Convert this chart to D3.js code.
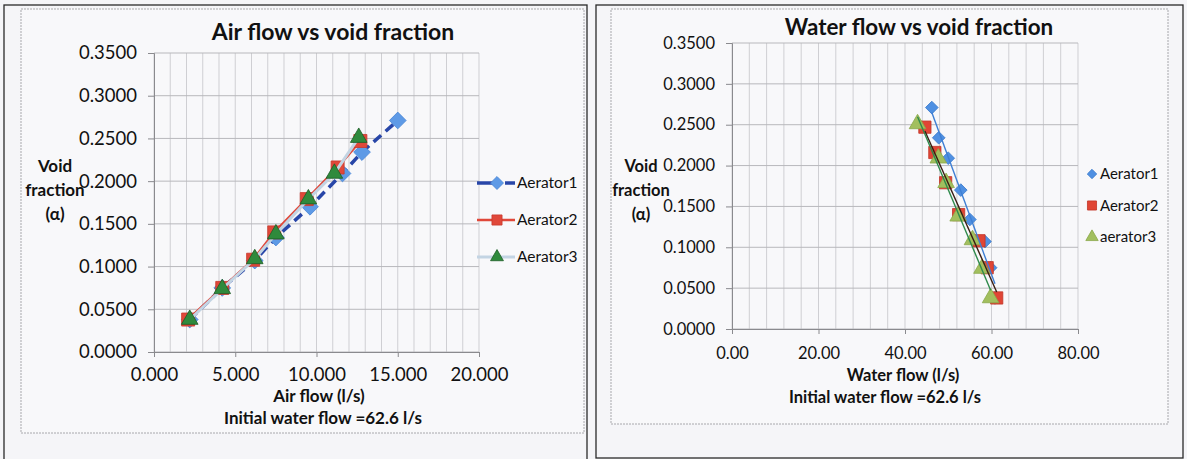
<!DOCTYPE html>
<html>
<head>
<meta charset="utf-8">
<script src="https://cdn.jsdelivr.net/npm/d3@7"></script>
<style>
  html, body { margin: 0; padding: 0; background: #f5f5f8; }
  svg { display: block; }
  text { font-family: Lato, "Open Sans", sans-serif; fill: #111; }
</style>
</head>
<body>
<svg id="chart" width="1187" height="459"></svg>
<script>
// ---- data -------------------------------------------------------------
const seriesNames = ["Aerator1", "Aerator2", "Aerator3"];
const rightLegendNames = ["Aerator1", "Aerator2", "aerator3"];

// void fraction (α) for each aerator, ascending
const void1 = [0.038, 0.075, 0.107, 0.134, 0.170, 0.209, 0.234, 0.271];
const void2 = [0.038, 0.075, 0.108, 0.140, 0.179, 0.216, 0.247];
const void3 = [0.038, 0.074, 0.109, 0.138, 0.179, 0.209, 0.251];

// air flow (l/s)
const air1 = [2.2, 4.2, 6.2, 7.5, 9.6, 11.6, 12.8, 15.0];
const air2 = [2.1, 4.2, 6.1, 7.4, 9.4, 11.3, 12.7];
const air3 = [2.2, 4.2, 6.2, 7.5, 9.5, 11.1, 12.6];

// water flow (l/s)
const water1 = [60.8, 59.8, 58.5, 55.0, 52.9, 50.0, 47.8, 46.2];
const water2 = [61.2, 59.0, 57.1, 52.4, 49.4, 46.9, 44.6];
const water3 = [59.8, 57.8, 55.6, 52.3, 49.5, 47.7, 42.9];

const yTicks = [0, 0.05, 0.10, 0.15, 0.20, 0.25, 0.30, 0.35];
const airTicks = [0, 5, 10, 15, 20];
const waterTicks = [0, 20, 40, 60, 80];

// ---- helpers ----------------------------------------------------------
const svg = d3.select("#chart");
const zip = (xs, ys) => xs.map((x, i) => ({ x, y: ys[i] }));

// diamond = square turned 45°, as spreadsheet charts draw it
function marker(g, kind, size, fill, stroke) {
  const type = kind === "triangle" ? d3.symbolTriangle : d3.symbolSquare;
  const p = g.append("g");
  p.append("path")
    .attr("d", d3.symbol().type(type).size(size)())
    .attr("transform", kind === "diamond" ? "rotate(45)" : null)
    .attr("fill", fill)
    .attr("stroke", stroke)
    .attr("stroke-width", 0.8);
  return p;
}

function frames(outer, inner) {
  svg.append("rect")
    .attr("x", inner.x).attr("y", inner.y)
    .attr("width", inner.w).attr("height", inner.h)
    .attr("fill", "#f8f8fa").attr("stroke", "#a8a8ac")
    .attr("stroke-width", 1).attr("stroke-dasharray", "2,1");
  svg.append("rect")
    .attr("x", outer.x).attr("y", outer.y)
    .attr("width", outer.w).attr("height", outer.h)
    .attr("fill", "none").attr("stroke", "#2a2a2a").attr("stroke-width", 1.3);
}

function panel(cfg) {
  const x = d3.scaleLinear().domain(cfg.xDomain).range([cfg.px0, cfg.px1]);
  const y = d3.scaleLinear().domain([0, 0.35]).range([cfg.py1, cfg.py0]);
  const g = svg.append("g");

  // grid
  g.append("g").selectAll("line").data(cfg.xGrid).join("line")
    .attr("x1", d => x(d)).attr("x2", d => x(d))
    .attr("y1", cfg.py0).attr("y2", cfg.py1)
    .attr("stroke", "#cfcfd3").attr("stroke-width", 1);
  g.append("g").selectAll("line").data(yTicks).join("line")
    .attr("x1", cfg.px0).attr("x2", cfg.px1)
    .attr("y1", d => y(d)).attr("y2", d => y(d))
    .attr("stroke", "#b8b8bc").attr("stroke-width", 1);

  // axes
  const ya = g.append("g").attr("transform", `translate(${cfg.px0},0)`)
    .call(d3.axisLeft(y).tickValues(yTicks).tickSize(6).tickPadding(11)
      .tickFormat(d3.format(".4f")));
  const xa = g.append("g").attr("transform", `translate(0,${cfg.py1})`)
    .call(d3.axisBottom(x).tickValues(cfg.xTicks).tickSize(5).tickPadding(cfg.xPad)
      .tickFormat(d3.format(cfg.xFormat)));
  [ya, xa].forEach(a => {
    a.select(".domain").attr("stroke", "#8a8a8e");
    a.selectAll(".tick line").attr("stroke", "#8a8a8e");
    a.selectAll("text").style("font-size", cfg.tickFont + "px").attr("fill", "#111");
  });

  // titles
  svg.append("text").attr("x", cfg.titleX).attr("y", cfg.titleY)
    .attr("text-anchor", "middle").style("font-size", cfg.titleFont + "px")
    .style("font-weight", "bold").text(cfg.title);
  svg.append("text").attr("x", cfg.xTitleX).attr("y", cfg.xTitleY)
    .attr("text-anchor", "middle").style("font-size", cfg.labelFont + "px")
    .style("font-weight", "bold").text(cfg.xTitle);
  svg.append("text").attr("x", cfg.noteX).attr("y", cfg.noteY)
    .attr("text-anchor", "middle").style("font-size", cfg.labelFont + "px")
    .style("font-weight", "bold").text("Initial water flow =62.6 l/s");
  ["Void", "fraction", "(α)"].forEach((t, i) => {
    svg.append("text").attr("x", cfg.yTitleX).attr("y", cfg.yTitleY + i * 24)
      .attr("text-anchor", "middle").style("font-size", cfg.labelFont + "px")
      .style("font-weight", "bold").text(t);
  });
  return { x, y, g };
}

// ---- left chart: air flow vs void fraction ----------------------------
frames({ x: 4, y: 5, w: 583, h: 460 }, { x: 21, y: 9, w: 563, h: 424 });

const L = panel({
  xDomain: [0, 20], px0: 154, px1: 479, py0: 53, py1: 352,
  xGrid: d3.range(0, 21, 1), xTicks: airTicks, xFormat: ".3f", xPad: 11,
  tickFont: 18.5, titleFont: 23, labelFont: 17,
  title: "Air flow vs void fraction", titleX: 333, titleY: 40,
  xTitle: "Air flow (l/s)", xTitleX: 319, xTitleY: 402,
  noteX: 323, noteY: 424, yTitleX: 55, yTitleY: 172
});

const leftSeries = [
  { pts: zip(air1, void1), stroke: "#2846a8", width: 3.5, dash: "10,6",
    kind: "diamond", size: 140, fill: "#5e9ae6", mstroke: "#4a86d6" },
  { pts: zip(air2, void2), stroke: "#e0483a", width: 2.5, dash: null,
    kind: "square", size: 170, fill: "#e0483a", mstroke: "#c8382c" },
  { pts: zip(air3, void3), stroke: "#c3d4e3", width: 3, dash: null,
    kind: "triangle", size: 120, fill: "#2f8a3c", mstroke: "#1d5c26" }
];
const lineL = d3.line().x(d => L.x(d.x)).y(d => L.y(d.y));
leftSeries.forEach(s => {
  L.g.append("path").datum(s.pts).attr("d", lineL)
    .attr("fill", "none").attr("stroke", s.stroke)
    .attr("stroke-width", s.width).attr("stroke-dasharray", s.dash);
  s.pts.forEach(p => {
    marker(L.g, s.kind, s.size, s.fill, s.mstroke)
      .attr("transform", `translate(${L.x(p.x)},${L.y(p.y)})`);
  });
});

// left legend
leftSeries.forEach((s, i) => {
  const ly = 183 + i * 37;
  const lg = svg.append("g");
  lg.append("line").attr("x1", 477).attr("x2", 515).attr("y1", ly).attr("y2", ly)
    .attr("stroke", s.stroke).attr("stroke-width", s.width)
    .attr("stroke-dasharray", s.dash ? "22,6" : null);
  marker(lg, s.kind, s.size * 0.6, s.fill, s.mstroke)
    .attr("transform", `translate(497,${ly})`);
  lg.append("text").attr("x", 517).attr("y", ly).attr("dy", "0.35em")
    .style("font-size", "15.5px").text(seriesNames[i]);
});

// ---- right chart: water flow vs void fraction -------------------------
frames({ x: 596, y: 5, w: 587, h: 453 }, { x: 611, y: 9, w: 557, h: 415 });

const R = panel({
  xDomain: [0, 80], px0: 732, px1: 1078, py0: 43, py1: 329,
  xGrid: d3.range(0, 81, 4), xTicks: waterTicks, xFormat: ".2f", xPad: 13,
  tickFont: 16.5, titleFont: 22.4, labelFont: 16.5,
  title: "Water flow vs void fraction", titleX: 919, titleY: 35,
  xTitle: "Water flow (l/s)", xTitleX: 903, xTitleY: 381,
  noteX: 885, noteY: 403, yTitleX: 641, yTitleY: 172
});

const rightSeries = [
  { pts: zip(water1, void1), kind: "diamond", size: 80, fill: "#4f90e2",
    mstroke: "#3c7ccc", trend: "#3f7fd4" },
  { pts: zip(water2, void2), kind: "square", size: 150, fill: "#e04535",
    mstroke: "#c23527", trend: "#3a1e14" },
  { pts: zip(water3, void3), kind: "triangle", size: 120, fill: "#a2bf5e",
    mstroke: "#8aa84a", trend: "#2f8a4c" }
];

rightSeries.forEach(s => {
  s.pts.forEach(p => {
    marker(R.g, s.kind, s.size, s.fill, s.mstroke)
      .attr("transform", `translate(${R.x(p.x)},${R.y(p.y)})`);
  });
});
// linear trendlines (least squares) over each series' flow range
rightSeries.forEach(s => {
  const mx = d3.mean(s.pts, d => d.x), my = d3.mean(s.pts, d => d.y);
  const b = d3.sum(s.pts, d => (d.x - mx) * (d.y - my)) /
            d3.sum(s.pts, d => (d.x - mx) ** 2);
  const a = my - b * mx;
  const [x0, x1] = d3.extent(s.pts, d => d.x);
  R.g.append("line")
    .attr("x1", R.x(x0)).attr("y1", R.y(a + b * x0))
    .attr("x2", R.x(x1)).attr("y2", R.y(a + b * x1))
    .attr("stroke", s.trend).attr("stroke-width", 1.4);
});

// right legend
rightSeries.forEach((s, i) => {
  const ly = 174 + i * 31.5;
  marker(svg, s.kind, s.size * 0.55, s.fill, s.mstroke)
    .attr("transform", `translate(1092,${ly})`);
  svg.append("text").attr("x", 1100).attr("y", ly).attr("dy", "0.35em")
    .style("font-size", "15px").text(rightLegendNames[i]);
});
</script>
</body>
</html>
